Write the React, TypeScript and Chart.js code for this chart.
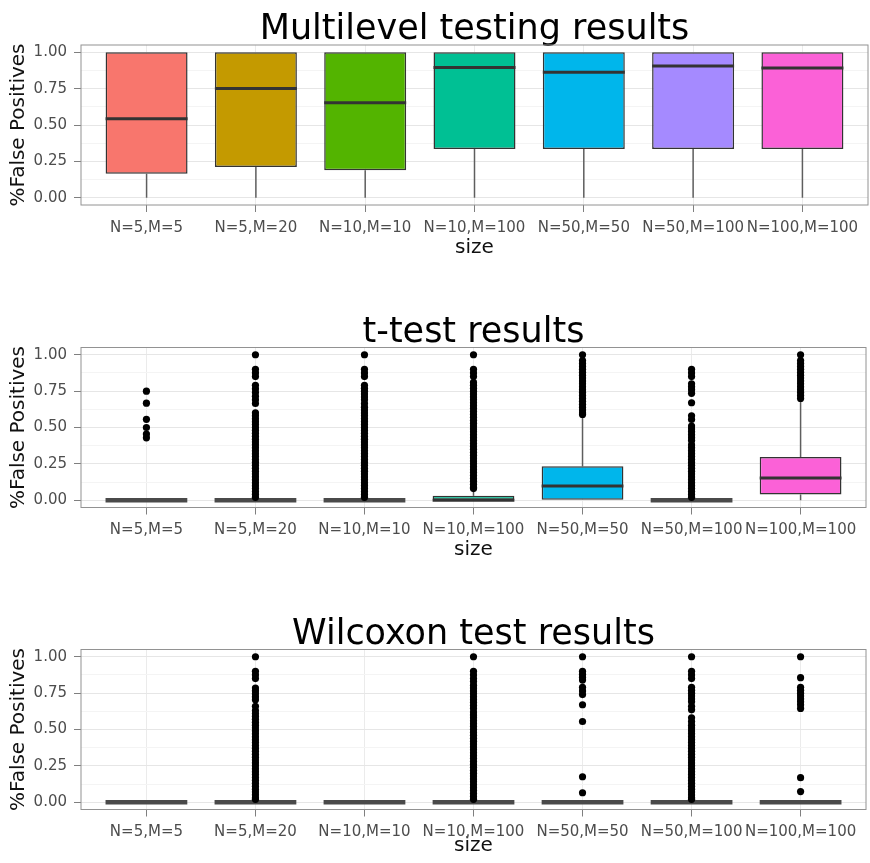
import React, { useEffect, useRef } from "react";
import { Chart, registerables } from "chart.js";

Chart.register(...registerables);

// ---- shared axis content ----
const categories = [
  "N=5,M=5",
  "N=5,M=20",
  "N=10,M=10",
  "N=10,M=100",
  "N=50,M=50",
  "N=50,M=100",
  "N=100,M=100",
];
const boxColors = ["#F8766D", "#C49A00", "#53B400", "#00C094", "#00B6EB", "#A58AFF", "#FB61D7"];
const yMajorTicks = [0, 0.25, 0.5, 0.75, 1];
const yMinorTicks = [0.125, 0.375, 0.625, 0.875];
const yAxisTitle = "%False Positives";
const xAxisTitle = "size";

// ---- Multilevel testing ----
const multiTitle = "Multilevel testing results";
const multiLower = [0, 0, 0, 0, 0, 0, 0];
const multiQ1 = [0.164, 0.212, 0.189, 0.335, 0.335, 0.335, 0.335];
const multiMedian = [0.543, 0.751, 0.653, 0.895, 0.863, 0.906, 0.892];
const multiQ3 = [1, 1, 1, 1, 1, 1, 1];
const multiUpper = [1, 1, 1, 1, 1, 1, 1];
const multiOutliers: number[][] = [[], [], [], [], [], [], []];

// ---- t-test ----
const tTitle = "t-test results";
const tLower = [0, 0, 0, 0, 0, 0, 0];
const tQ1 = [0, 0, 0, 0, 0, 0, 0.039];
const tMedian = [0, 0, 0, 0, 0.098, 0, 0.153];
const tQ3 = [0, 0, 0, 0.03, 0.233, 0, 0.297];
const tUpper = [0, 0, 0, 0.075, 0.57, 0, 0.68];
const tOutN5M5 = [0.75, 0.667, 0.556, 0.5, 0.455, 0.429];
const tOutN5M20 = [
  1, 0.9, 0.875, 0.85, 0.79, 0.765, 0.74, 0.715, 0.69, 0.665, 0.6, 0.58, 0.56, 0.54, 0.52, 0.5,
  0.48, 0.46, 0.44, 0.42, 0.4, 0.38, 0.36, 0.34, 0.32, 0.3, 0.28, 0.26, 0.24, 0.22, 0.2, 0.18,
  0.16, 0.14, 0.12, 0.1, 0.08, 0.06, 0.04, 0.02,
];
const tOutN10M10 = [
  1, 0.9, 0.875, 0.85, 0.79, 0.77, 0.75, 0.73, 0.71, 0.69, 0.665, 0.64, 0.62, 0.6, 0.58, 0.56,
  0.54, 0.52, 0.5, 0.48, 0.46, 0.44, 0.42, 0.4, 0.38, 0.36, 0.34, 0.32, 0.3, 0.28, 0.26, 0.24,
  0.22, 0.2, 0.18, 0.16, 0.14, 0.12, 0.1, 0.08, 0.06, 0.04, 0.02,
];
const tOutN10M100 = [
  1, 0.9, 0.875, 0.85, 0.81, 0.79, 0.77, 0.75, 0.73, 0.71, 0.69, 0.67, 0.65, 0.63, 0.61, 0.59,
  0.57, 0.55, 0.53, 0.51, 0.49, 0.47, 0.45, 0.43, 0.41, 0.39, 0.37, 0.35, 0.33, 0.31, 0.29, 0.27,
  0.25, 0.23, 0.21, 0.19, 0.17, 0.15, 0.13, 0.11, 0.09, 0.08,
];
const tOutN50M50 = [
  1, 0.96, 0.94, 0.92, 0.9, 0.88, 0.86, 0.84, 0.82, 0.8, 0.78, 0.76, 0.74, 0.72, 0.7, 0.68, 0.66,
  0.64, 0.62, 0.6, 0.59,
];
const tOutN50M100 = [
  0.9, 0.875, 0.85, 0.8, 0.78, 0.76, 0.735, 0.67, 0.58, 0.555, 0.51, 0.49, 0.47, 0.45, 0.43, 0.41,
  0.38, 0.36, 0.34, 0.32, 0.3, 0.28, 0.26, 0.24, 0.22, 0.2, 0.18, 0.16, 0.14, 0.12, 0.1, 0.08,
  0.06, 0.04, 0.02,
];
const tOutN100M100 = [
  1, 0.96, 0.94, 0.92, 0.9, 0.88, 0.86, 0.84, 0.82, 0.8, 0.78, 0.76, 0.74, 0.72, 0.7,
];
const tOutliers = [tOutN5M5, tOutN5M20, tOutN10M10, tOutN10M100, tOutN50M50, tOutN50M100, tOutN100M100];

// ---- Wilcoxon test ----
const wTitle = "Wilcoxon test results";
const wLower = [0, 0, 0, 0, 0, 0, 0];
const wQ1 = [0, 0, 0, 0, 0, 0, 0];
const wMedian = [0, 0, 0, 0, 0, 0, 0];
const wQ3 = [0, 0, 0, 0, 0, 0, 0];
const wUpper = [0, 0, 0, 0, 0, 0, 0];
const wOutN5M5: number[] = [];
const wOutN5M20 = [
  1, 0.9, 0.875, 0.85, 0.785, 0.765, 0.745, 0.725, 0.705, 0.66, 0.63, 0.61, 0.59, 0.57, 0.55, 0.53,
  0.51, 0.49, 0.47, 0.45, 0.43, 0.41, 0.39, 0.37, 0.35, 0.33, 0.31, 0.29, 0.27, 0.25, 0.23, 0.21,
  0.19, 0.17, 0.15, 0.13, 0.11, 0.09, 0.07, 0.05, 0.03, 0.02,
];
const wOutN10M10: number[] = [];
const wOutN10M100 = [
  1, 0.9, 0.875, 0.85, 0.83, 0.805, 0.785, 0.765, 0.745, 0.725, 0.705, 0.685, 0.665, 0.645, 0.62,
  0.6, 0.58, 0.56, 0.54, 0.52, 0.5, 0.48, 0.46, 0.44, 0.42, 0.4, 0.38, 0.36, 0.34, 0.32, 0.3,
  0.28, 0.26, 0.24, 0.22, 0.2, 0.18, 0.16, 0.14, 0.12, 0.1, 0.08, 0.06, 0.04, 0.02,
];
const wOutN50M50 = [1, 0.9, 0.88, 0.86, 0.84, 0.79, 0.765, 0.74, 0.67, 0.555, 0.175, 0.065];
const wOutN50M100 = [
  1, 0.9, 0.875, 0.85, 0.79, 0.77, 0.75, 0.73, 0.71, 0.69, 0.66, 0.635, 0.58, 0.555, 0.53, 0.51,
  0.49, 0.47, 0.45, 0.43, 0.41, 0.39, 0.37, 0.35, 0.33, 0.31, 0.29, 0.27, 0.25, 0.23, 0.21, 0.19,
  0.17, 0.15, 0.13, 0.11, 0.09, 0.07, 0.05, 0.03, 0.02,
];
const wOutN100M100 = [1, 0.856, 0.79, 0.77, 0.75, 0.73, 0.71, 0.69, 0.67, 0.645, 0.169, 0.073];
const wOutliers = [wOutN5M5, wOutN5M20, wOutN10M10, wOutN10M100, wOutN50M50, wOutN50M100, wOutN100M100];

type PanelData = {
  title: string;
  lower: number[];
  q1: number[];
  median: number[];
  q3: number[];
  upper: number[];
  outliers: number[][];
};

const panels: PanelData[] = [
  { title: multiTitle, lower: multiLower, q1: multiQ1, median: multiMedian, q3: multiQ3, upper: multiUpper, outliers: multiOutliers },
  { title: tTitle, lower: tLower, q1: tQ1, median: tMedian, q3: tQ3, upper: tUpper, outliers: tOutliers },
  { title: wTitle, lower: wLower, q1: wQ1, median: wMedian, q3: wQ3, upper: wUpper, outliers: wOutliers },
];

// page geometry of each panel (vertical offset and "size" label centre)
const PAGE_W = 870;
const PAGE_H = 863;
const panelLayout = [
  { offset: 0, xTitleCenter: 248 },
  { offset: 302.5, xTitleCenter: 550 },
  { offset: 604.5, xTitleCenter: 846 },
];
const PLOT_TOP = 45;
const PLOT_BOTTOM = 205;
const PLOT_LEFT = 81;
const PLOT_RIGHT = 868;
const TITLE_SIZE = 35;
const TITLE_LINE = 0.8;
const TITLE_PAD_TOP = 16;

const FONT = "'DejaVu Sans', 'Liberation Sans', Arial, sans-serif";

// Whiskers, medians and the panel frame, positioned with the chart's own scales.
const boxplotParts = {
  id: "boxplotParts",
  beforeDatasetsDraw(chart: any, _args: any, opts: any) {
    const meta = chart.getDatasetMeta(0);
    const y = chart.scales.y;
    const ctx = chart.ctx;
    ctx.save();
    ctx.strokeStyle = "#5e5e5e";
    ctx.lineWidth = 1.5;
    meta.data.forEach((bar: any, i: number) => {
      const x = bar.x;
      ctx.beginPath();
      ctx.moveTo(x, y.getPixelForValue(opts.q3[i]));
      ctx.lineTo(x, y.getPixelForValue(opts.upper[i]));
      ctx.moveTo(x, y.getPixelForValue(opts.q1[i]));
      ctx.lineTo(x, y.getPixelForValue(opts.lower[i]));
      ctx.stroke();
    });
    ctx.restore();
  },
  afterDatasetDraw(chart: any, args: any, opts: any) {
    if (args.index !== 0) return;
    const meta = chart.getDatasetMeta(0);
    const y = chart.scales.y;
    const ctx = chart.ctx;
    ctx.save();
    meta.data.forEach((bar: any, i: number) => {
      const half = bar.width / 2;
      const flat = opts.q1[i] === opts.q3[i];
      const py = y.getPixelForValue(opts.median[i]);
      ctx.strokeStyle = flat ? "#4a4a4a" : "#333333";
      ctx.lineWidth = flat ? 4.5 : 3;
      ctx.beginPath();
      ctx.moveTo(bar.x - half, py);
      ctx.lineTo(bar.x + half, py);
      ctx.stroke();
    });
    ctx.restore();
  },
  afterDraw(chart: any) {
    const { left, top, right, bottom } = chart.chartArea;
    const ctx = chart.ctx;
    ctx.save();
    ctx.strokeStyle = "#929292";
    ctx.lineWidth = 1;
    ctx.strokeRect(left, top, right - left, bottom - top);
    ctx.restore();
  },
};

function BoxPanel({ data, layout }: { data: PanelData; layout: { offset: number; xTitleCenter: number } }) {
  const ref = useRef<HTMLCanvasElement>(null);

  useEffect(() => {
    const plotBottom = PLOT_BOTTOM + layout.offset;
    const xAxisBottom = layout.xTitleCenter + 12;
    const majorSet = new Set(yMajorTicks);

    const boxData = categories.map((_, i) => ({ x: i + 1, y: [data.q1[i], data.q3[i]] }));
    const pointData: { x: number; y: number }[] = [];
    data.outliers.forEach((vals, i) => vals.forEach((v) => pointData.push({ x: i + 1, y: v })));

    const chart = new Chart(ref.current as HTMLCanvasElement, {
      type: "bar",
      data: {
        datasets: [
          {
            type: "bar",
            data: boxData as any,
            backgroundColor: boxColors,
            borderColor: "#333333",
            borderWidth: 1.5,
            borderSkipped: false,
            categoryPercentage: 1,
            barPercentage: 0.75,
            order: 2,
          },
          {
            type: "scatter",
            data: pointData,
            pointRadius: 3.6,
            pointBackgroundColor: "#000000",
            pointBorderWidth: 0,
            order: 1,
          } as any,
        ],
      },
      plugins: [boxplotParts],
      options: {
        animation: false,
        responsive: false,
        events: [],
        layout: {
          padding: {
            top: layout.offset,
            bottom: PAGE_H - xAxisBottom,
            left: 0,
            right: PAGE_W - PLOT_RIGHT,
          },
        },
        plugins: {
          legend: { display: false },
          tooltip: { enabled: false },
          title: {
            display: true,
            text: data.title,
            fullSize: false,
            color: "#000000",
            font: { family: FONT, size: TITLE_SIZE, weight: "normal", lineHeight: TITLE_LINE },
            padding: {
              top: TITLE_PAD_TOP,
              bottom: PLOT_TOP - TITLE_SIZE * TITLE_LINE - TITLE_PAD_TOP,
            },
          },
          boxplotParts: {
            lower: data.lower,
            q1: data.q1,
            median: data.median,
            q3: data.q3,
            upper: data.upper,
          },
        } as any,
        scales: {
          x: {
            type: "linear",
            offset: false,
            min: 0.4,
            max: categories.length + 0.6,
            afterBuildTicks: (scale: any) => {
              scale.ticks = categories.map((_, i) => ({ value: i + 1 }));
            },
            afterFit: (scale: any) => {
              scale.height = xAxisBottom - plotBottom;
            },
            grid: {
              offset: false,
              color: "#EBEBEB",
              lineWidth: 1,
              tickColor: "#7f7f7f",
              tickLength: 7,
              drawTicks: true,
            },
            border: { display: false },
            ticks: {
              autoSkip: false,
              maxRotation: 0,
              minRotation: 0,
              padding: 7,
              color: "#4d4d4d",
              font: { family: FONT, size: 15 },
              callback: (v: any) => categories[Math.round(Number(v)) - 1] ?? "",
            },
            title: {
              display: true,
              text: xAxisTitle,
              color: "#111111",
              font: { family: FONT, size: 20, lineHeight: 1.2 },
              padding: { top: 0, bottom: 0 },
            },
          },
          y: {
            type: "linear",
            min: -0.05,
            max: 1.05,
            afterBuildTicks: (scale: any) => {
              scale.ticks = [...yMajorTicks, ...yMinorTicks].map((v) => ({ value: v }));
            },
            afterFit: (scale: any) => {
              scale.width = PLOT_LEFT;
            },
            grid: {
              color: (c: any) => (majorSet.has(c.tick?.value) ? "#E6E6E6" : "#F4F4F4"),
              tickColor: (c: any) => (majorSet.has(c.tick?.value) ? "#7f7f7f" : "rgba(0,0,0,0)"),
              lineWidth: 1,
              tickLength: 7,
            },
            border: { display: false },
            ticks: {
              autoSkip: false,
              padding: 7,
              color: "#4d4d4d",
              font: { family: FONT, size: 15 },
              callback: (v: any) => (majorSet.has(Number(v)) ? Number(v).toFixed(2) : ""),
            },
            title: {
              display: true,
              text: yAxisTitle,
              color: "#111111",
              font: { family: FONT, size: 20, lineHeight: 1.2 },
              padding: { top: 7, bottom: 0 },
            },
          },
        },
      } as any,
    });
    return () => chart.destroy();
  }, [data, layout]);

  return (
    <canvas
      ref={ref}
      width={PAGE_W}
      height={PAGE_H}
      style={{ position: "absolute", left: 0, top: 0, width: PAGE_W, height: PAGE_H }}
    />
  );
}

export default function App() {
  return (
    <div
      style={{
        position: "absolute",
        left: 0,
        top: 0,
        width: PAGE_W,
        height: PAGE_H,
        background: "#ffffff",
        overflow: "hidden",
      }}
    >
      {panels.map((p, i) => (
        <BoxPanel key={i} data={p} layout={panelLayout[i]} />
      ))}
    </div>
  );
}
